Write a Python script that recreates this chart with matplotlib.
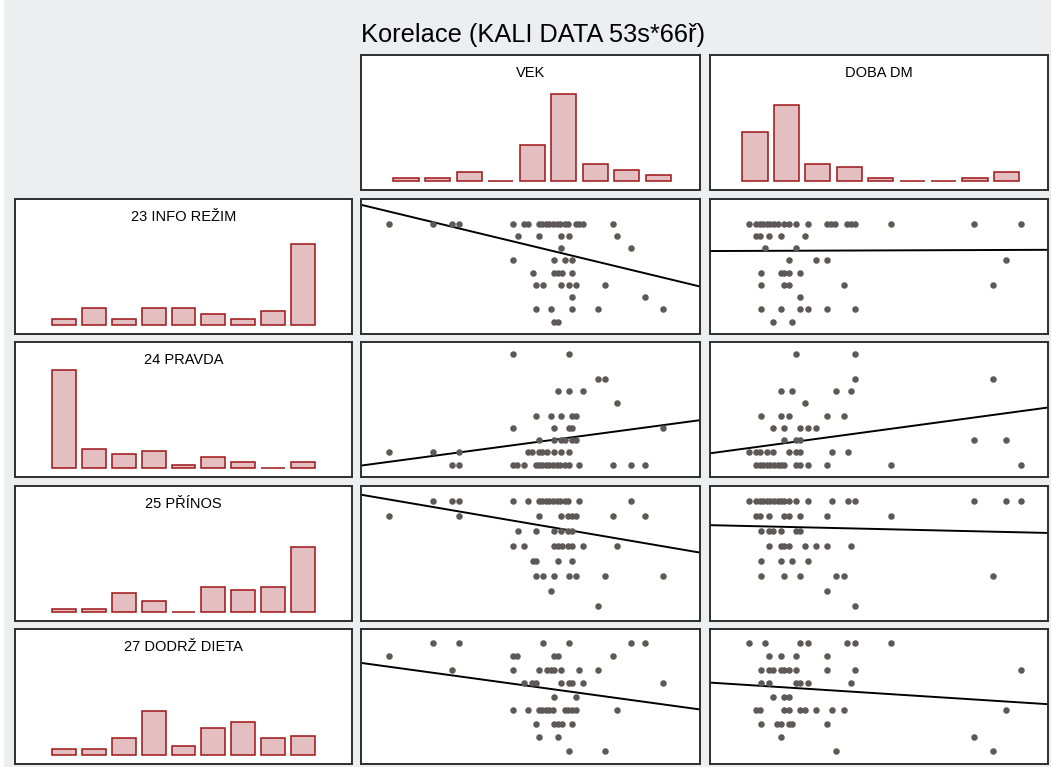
import matplotlib.pyplot as plt
from matplotlib.patches import Rectangle

plt.rcParams["font.family"] = ["Liberation Sans", "DejaVu Sans"]

title = "Korelace (KALI DATA 53s*66ř)"
col_names = ["VEK", "DOBA DM"]
row_names = ["23 INFO REŽIM", "24 PRAVDA", "25 PŘÍNOS", "27 DODRŽ DIETA"]

# histogram counts, 9 bins per variable
hist_vek = [1, 1, 3, 0, 13, 32, 6, 4, 2]
hist_doba = [18, 28, 6, 5, 1, 0, 0, 1, 3]
hist_info = [2, 6, 2, 6, 6, 4, 2, 5, 30]
hist_pravda = [36, 7, 5, 6, 1, 4, 2, 0, 2]
hist_prinos = [1, 1, 7, 4, 0, 9, 8, 9, 24]
hist_dieta = [2, 2, 6, 16, 3, 10, 12, 6, 7]

# scatter x values grouped by answer level (index 0 = level 1)
info_vek = [
    [57.0, 58.1],
    [51.5, 55.9, 62.3, 69.8, 89.2],
    [62.3, 83.9],
    [51.5, 53.8, 59.0, 61.4, 63.4, 72.1],
    [50.6, 57.0, 58.1, 59.2, 62.3],
    [44.9, 57.0, 60.2, 62.3],
    [59.0, 79.6],
    [46.2, 52.6, 59.0, 61.4, 75.4],
    [8.4, 21.2, 26.9, 28.9, 44.9, 48.2, 49.3, 52.4, 53.5, 54.5, 55.6, 56.7,
     57.7, 58.8, 60.1, 61.1, 63.4, 64.4, 65.6, 74.2],
]
info_doba = [
    [7.4, 9.7],
    [6.0, 8.4, 10.7, 11.6, 13.9, 17.2],
    [10.7],
    [6.0, 8.8, 9.3, 15.8, 33.5],
    [6.0, 8.4, 8.8, 9.3, 10.7],
    [9.3, 12.5, 13.9, 35.0],
    [6.5, 10.2],
    [5.4, 5.9, 7.0, 8.4, 11.2],
    [4.6, 5.4, 5.9, 6.3, 6.7, 7.1, 7.6, 8.0, 8.8, 9.3, 10.2, 11.6, 13.9,
     14.3, 14.8, 16.2, 16.7, 17.2, 21.4, 31.2, 36.8],
]
pravda_vek = [
    [26.9, 28.9, 44.9, 46.0, 48.2, 51.5, 52.4, 53.5, 54.5, 55.6, 56.7, 57.7,
     58.8, 60.1, 61.4, 64.4, 74.2, 79.6, 83.9],
    [8.4, 21.2, 28.9, 49.3, 50.3, 52.4, 53.5, 54.8, 57.0, 59.0, 61.4],
    [52.6, 57.0, 59.0, 60.2, 62.3, 63.4],
    [44.9, 57.0, 61.4, 62.3, 89.2],
    [51.5, 55.9, 59.0, 62.3, 63.4],
    [75.4],
    [58.1, 61.4, 65.6],
    [69.8, 72.1],
    [],
    [44.9, 61.4],
]
pravda_doba = [
    [5.4, 5.9, 6.3, 6.7, 7.1, 7.6, 8.0, 8.4, 8.8, 10.2, 10.7, 11.6, 13.9,
     21.4, 36.8],
    [4.6, 5.4, 5.9, 6.7, 7.4, 9.3, 10.2, 10.7, 14.4, 16.3],
    [8.8, 10.2, 10.7, 31.2, 35.0],
    [7.4, 8.8, 10.7, 11.6, 12.5],
    [6.0, 8.4, 9.3, 13.9, 15.8],
    [11.2],
    [8.4, 9.7, 14.9, 16.7],
    [17.2, 33.5],
    [],
    [10.2, 17.2],
]
prinos_vek = [
    [69.8],
    [55.9],
    [51.5, 53.8, 57.0, 61.4, 63.4, 72.1, 89.2],
    [50.6, 51.5, 58.1, 62.3],
    [44.9, 48.2, 57.0, 58.1, 59.2, 61.1, 62.3, 65.6, 75.4],
    [46.2, 51.5, 57.0, 59.0, 61.1, 62.3],
    [8.4, 28.9, 52.6, 59.0, 61.1, 62.3, 63.4, 74.2, 83.9],
    [21.2, 26.9, 28.9, 44.9, 49.3, 52.4, 53.5, 54.5, 55.6, 56.7, 57.7, 58.8,
     60.1, 61.1, 64.4, 79.6],
]
prinos_doba = [
    [17.2],
    [13.9],
    [6.0, 8.8, 10.7, 14.9, 15.8, 33.5],
    [6.0, 8.4, 9.7, 11.6],
    [7.0, 8.4, 8.8, 9.3, 11.2, 12.5, 13.9, 16.7],
    [6.0, 7.0, 7.4, 8.4, 10.2, 10.7],
    [5.4, 5.9, 7.0, 8.8, 9.3, 10.7, 13.9, 21.4],
    [4.6, 5.4, 5.9, 6.3, 6.7, 7.1, 7.6, 8.0, 8.4, 8.8, 9.3, 10.2, 11.6, 14.4,
     16.3, 17.2, 31.2, 35.0, 36.8],
]
dieta_vek = [
    [61.4, 72.1],
    [52.6, 58.1],
    [51.5, 57.0, 58.1, 59.2, 62.3],
    [44.9, 49.3, 52.4, 53.5, 54.5, 55.6, 56.7, 60.1, 61.1, 62.3, 63.4, 75.4],
    [57.0, 63.4],
    [48.2, 50.3, 51.5, 59.0, 61.4, 62.3, 65.6, 89.2],
    [26.9, 44.9, 52.6, 54.8, 55.9, 57.0, 59.0, 64.4, 69.8],
    [8.4, 44.9, 46.0, 57.0, 58.1, 74.2],
    [21.2, 28.9, 53.8, 61.4, 79.6, 83.9],
]
dieta_doba = [
    [14.9, 33.5],
    [8.4, 31.2],
    [6.0, 7.9, 8.4, 9.3, 9.7, 13.9],
    [5.4, 5.9, 8.8, 9.3, 10.7, 11.2, 12.5, 14.4, 15.8, 35.0],
    [7.4, 8.8, 9.3],
    [6.0, 7.0, 10.2, 10.7, 11.6, 16.7],
    [6.0, 7.0, 7.4, 8.4, 8.8, 9.3, 10.2, 13.9, 17.2, 36.8],
    [7.0, 8.4, 10.2, 13.9],
    [4.6, 6.5, 10.7, 11.6, 16.2, 17.2, 21.4],
]

# regression lines (intercept, slope) for each row
fit_vek = [(10.53, -0.0666), (0.93, 0.037), (8.42, -0.0386), (7.49, -0.0345)]
fit_doba = [(6.76, 0.0025), (1.93, 0.0933), (6.39, -0.013), (6.03, -0.04)]

row_hists = [hist_info, hist_pravda, hist_prinos, hist_dieta]
row_top = [11, 11, 9, 10]
scatters = [(info_vek, info_doba), (pravda_vek, pravda_doba),
            (prinos_vek, prinos_doba), (dieta_vek, dieta_doba)]

W, H = 1051, 767
BG = "#eceef0"
FACE = "#e4bfc1"
EDGE = "#9e1416"
DOT = "#5e5956"
FRAME = "#2e2e2e"

fig = plt.figure(figsize=(W / 100, H / 100), dpi=100, facecolor=BG)
# thin white strip down the left edge
fig.patches.append(Rectangle((0, 0), 4 / W, 1, transform=fig.transFigure,
                             facecolor="white", edgecolor="none"))
fig.text(533 / W, 1 - 35 / H, title, ha="center", va="center", fontsize=18.3)

cols = [(15, 337), (361, 339), (710, 338)]
rows = [55, 199, 342, 486, 629]
panel_h = 135


def panel(col, row):
    x0, w = cols[col]
    y0 = rows[row]
    ax = fig.add_axes([x0 / W, 1 - (y0 + panel_h) / H, w / W, panel_h / H])
    ax.set_xticks([])
    ax.set_yticks([])
    for s in ax.spines.values():
        s.set_color(FRAME)
        s.set_linewidth(1.4)
    return ax


def histogram(ax, counts, label, xlim):
    pos = range(1, len(counts) + 1)
    ax.bar(pos, counts, width=0.8, color=FACE, edgecolor=EDGE, linewidth=1.1)
    ax.set_xlim(*xlim)
    ax.set_ylim(-3.5, 46.5)
    ax.text(0.5, 0.868, label, transform=ax.transAxes, ha="center",
            va="center", fontsize=10.5)


def scatter(ax, groups, fit, xmax, ytop):
    xs, ys = [], []
    for level, vals in enumerate(groups, start=1):
        xs += vals
        ys += [level] * len(vals)
    ax.scatter(xs, ys, s=22, color=DOT, linewidths=0, zorder=3)
    ax.axline((0, fit[0]), slope=fit[1], color="black", linewidth=1.4)
    ax.set_xlim(0, xmax)
    ax.set_ylim(0, ytop)


histogram(panel(1, 0), hist_vek, col_names[0], (-0.43, 10.32))
histogram(panel(2, 0), hist_doba, col_names[1], (-0.43, 10.32))

for i in range(4):
    histogram(panel(0, i + 1), row_hists[i], row_names[i], (-0.63, 10.63))
    scatter(panel(1, i + 1), scatters[i][0], fit_vek[i], 100, row_top[i])
    scatter(panel(2, i + 1), scatters[i][1], fit_doba[i], 40, row_top[i])

fig.savefig("out.png", dpi=100, facecolor=BG)
